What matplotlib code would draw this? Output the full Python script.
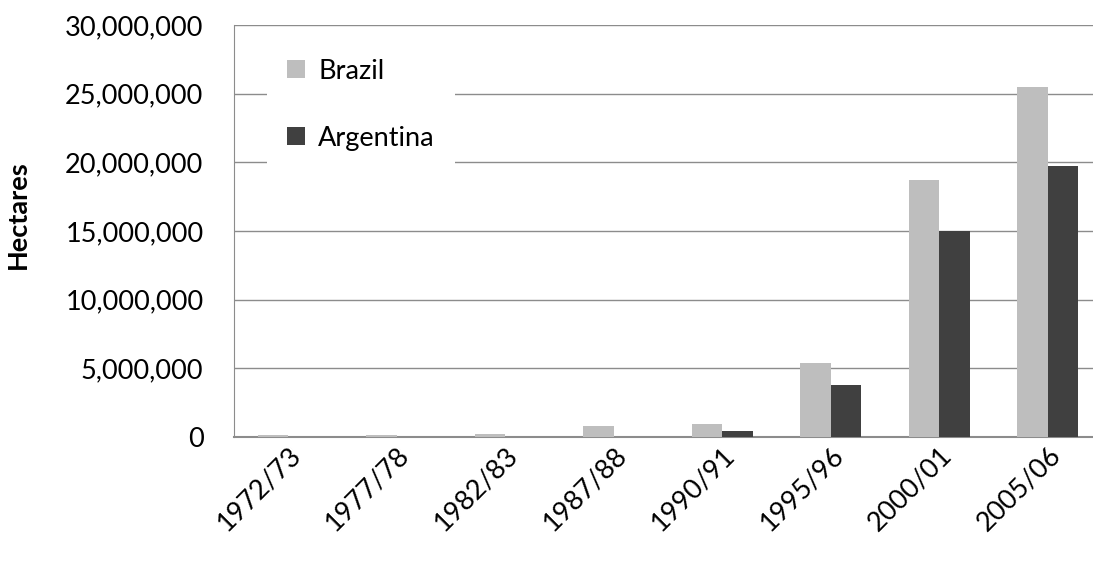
import matplotlib.pyplot as plt
import numpy as np
from matplotlib.ticker import FuncFormatter

plt.rcParams['font.family'] = ['Lato', 'DejaVu Sans']

seasons = ['1972/73', '1977/78', '1982/83', '1987/88', '1990/91',
           '1995/96', '2000/01', '2005/06']
brazil = [150000, 150000, 250000, 780000, 950000, 5400000, 18750000, 25500000]
argentina = [0, 0, 0, 0, 440000, 3800000, 15000000, 19750000]

fig = plt.figure(figsize=(10.93, 5.64), dpi=100)
ax = fig.add_axes([234/1093, 127/564, 868/1093, 412/564])

x = np.arange(len(seasons))
w = 0.28
ax.bar(x - w/2, brazil, w, color='#bebebe', label='Brazil', zorder=3)
ax.bar(x + w/2, argentina, w, color='#404040', label='Argentina', zorder=3)

ax.set_xlim(-0.5, 7.5)
ax.set_ylim(0, 30000000)
ax.set_yticks(np.arange(0, 30000001, 5000000))
ax.yaxis.set_major_formatter(FuncFormatter(lambda v, p: f'{int(v):,}'))
ax.grid(axis='y', color='#8c8c8c', lw=1, zorder=0)
ax.tick_params(axis='y', length=0, pad=22, labelsize=19.5)
ax.tick_params(axis='x', length=0, pad=4, labelsize=19.5)
ax.set_xticks(x)
ax.set_xticklabels(seasons, rotation=45, ha='right', rotation_mode='anchor')

for s in ['right', 'top']:
    ax.spines[s].set_visible(False)
ax.spines['left'].set_color('#8c8c8c')
ax.spines['bottom'].set_color('#8c8c8c')
ax.spines['bottom'].set_linewidth(1.5)

ax.set_ylabel('Hectares', fontsize=19.5, fontweight='bold')
ax.yaxis.set_label_coords(-0.235, 0.54)

leg = ax.legend(loc='upper left', bbox_to_anchor=(0.022, 1.0), fontsize=19.5,
                frameon=True, facecolor='white', edgecolor='none', framealpha=1,
                handlelength=0.65, handleheight=0.65, handletextpad=0.5,
                labelspacing=1.55, borderpad=0.75, fancybox=False)
leg.get_frame().set_linewidth(0)
leg.set_zorder(5)

fig.savefig('out.png', dpi=100)
